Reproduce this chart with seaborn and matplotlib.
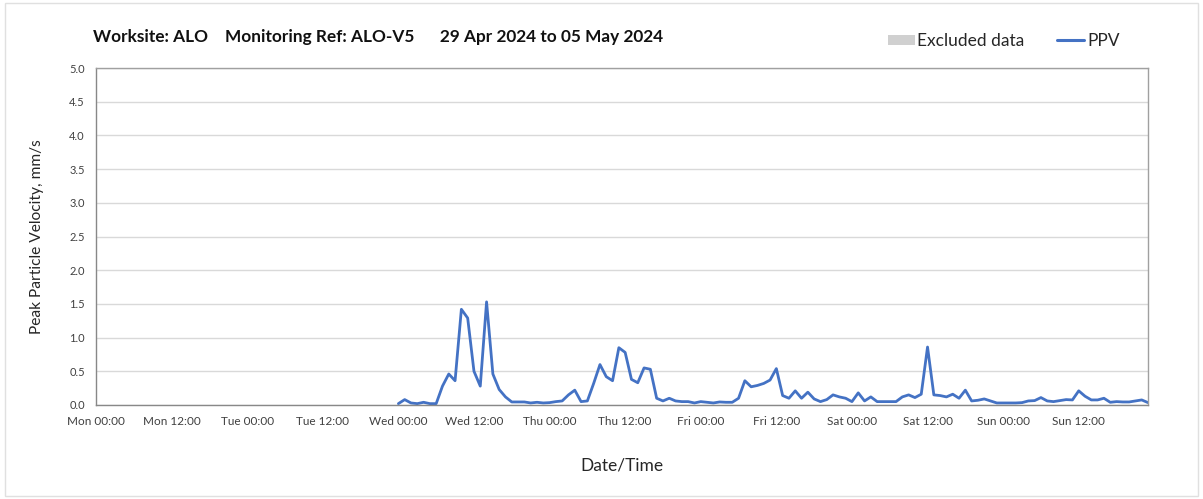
import numpy as np
import pandas as pd
import matplotlib
matplotlib.use("Agg")
import matplotlib.pyplot as plt
from matplotlib.patches import Patch, Rectangle
from matplotlib.lines import Line2D
import seaborn as sns

# hourly PPV readings, Wed 00:00 .. Sun 23:00
start_hour = 48
ppv = [
    0.02, 0.08, 0.03, 0.02, 0.04, 0.02, 0.02, 0.28, 0.46, 0.36, 1.42, 1.29,
    0.50, 0.28, 1.53, 0.46, 0.23, 0.12, 0.045, 0.045, 0.045, 0.03, 0.04, 0.03,
    0.035, 0.05, 0.06, 0.15, 0.22, 0.05, 0.06, 0.32, 0.60, 0.42, 0.36, 0.85,
    0.78, 0.38, 0.33, 0.55, 0.53, 0.10, 0.06, 0.10, 0.06, 0.05, 0.05, 0.03,
    0.05, 0.04, 0.03, 0.045, 0.04, 0.04, 0.10, 0.36, 0.27, 0.29, 0.32, 0.37,
    0.54, 0.14, 0.10, 0.21, 0.10, 0.19, 0.09, 0.05, 0.08, 0.15, 0.12, 0.10,
    0.05, 0.18, 0.06, 0.12, 0.05, 0.05, 0.05, 0.05, 0.12, 0.15, 0.11, 0.16,
    0.86, 0.15, 0.14, 0.12, 0.16, 0.10, 0.22, 0.06, 0.07, 0.09, 0.06, 0.03,
    0.03, 0.03, 0.03, 0.035, 0.06, 0.065, 0.11, 0.06, 0.05, 0.065, 0.08, 0.075,
    0.21, 0.13, 0.075, 0.075, 0.10, 0.04, 0.05, 0.045, 0.045, 0.06, 0.075, 0.035,
]
days = ["Mon", "Tue", "Wed", "Thu", "Fri", "Sat", "Sun"]
tick_labels = [f"{d} {h}" for d in days for h in ["00:00", "12:00"]]
y_ticks = [0.0, 0.5, 1.0, 1.5, 2.0, 2.5, 3.0, 3.5, 4.0, 4.5, 5.0]

df = pd.DataFrame({"hour": np.arange(len(ppv)) + start_hour, "ppv": ppv})

sns.set_style("white")
plt.rcParams["font.family"] = ["Lato", "DejaVu Sans"]

fig = plt.figure(figsize=(12.03, 4.99), dpi=100)
ax = fig.add_axes([0.0798, 0.1884, 0.8745, 0.6753])

sns.lineplot(data=df, x="hour", y="ppv", ax=ax, color="#4472C4", linewidth=2.0)

ax.set_xlim(0, 167)
ax.set_ylim(0, 5)
ax.set_xticks(np.arange(0, 168, 12))
ax.set_xticklabels(tick_labels, fontsize=8.5, color="#404040")
ax.set_xticks(np.arange(24, 168, 24), minor=True)
ax.set_yticks(y_ticks)
ax.set_yticklabels([f"{v:.1f}" for v in y_ticks], fontsize=8, color="#404040")

ax.grid(False)
ax.grid(True, axis="y", which="major", color="#d9d9d9", linewidth=1)
ax.grid(True, axis="x", which="minor", color="#d9d9d9", linewidth=1)
ax.tick_params(axis="x", which="major", direction="out", length=4, color="#888888", pad=4)
ax.tick_params(axis="x", which="minor", length=0)
ax.tick_params(axis="y", direction="out", length=6, color="#888888", pad=2)
for s in ax.spines.values():
    s.set_color("#a0a0a0")
    s.set_linewidth(1)
ax.spines["bottom"].set_color("#888888")
ax.spines["left"].set_color("#888888")

ax.set_xlabel("Date/Time", fontsize=12.5, color="#262626", labelpad=22)
ax.set_ylabel("Peak Particle Velocity, mm/s", fontsize=11.2, color="#262626", labelpad=18)

fig.text(0.0773, 0.925, "Worksite: ALO    Monitoring Ref: ALO-V5      29 Apr 2024 to 05 May 2024",
         fontsize=12.4, fontweight="bold", color="#111111", ha="left", va="center")

handles = [Patch(facecolor="#d0d0d0", edgecolor="none"),
           Line2D([0], [0], color="#4472C4", linewidth=2.2)]
fig.legend(handles, ["Excluded data", "PPV"], loc="center right", bbox_to_anchor=(0.9435, 0.918),
           ncol=2, frameon=False, fontsize=12.5, handlelength=1.55, handleheight=0.55,
           handletextpad=0.15, columnspacing=1.9, labelcolor="#262626")

fig.patches.append(Rectangle((0.004, 0.006), 0.992, 0.988, transform=fig.transFigure,
                             fill=False, edgecolor="#e0e0e0", linewidth=1))

fig.savefig("out.png", dpi=100)
